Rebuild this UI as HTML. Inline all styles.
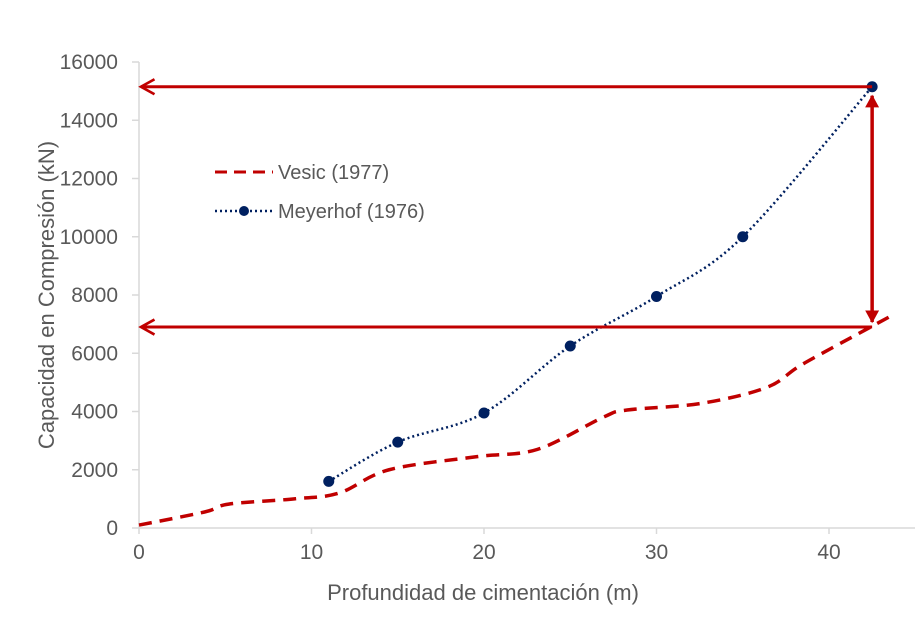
<!DOCTYPE html>
<html><head><meta charset="utf-8"><style>
body{margin:0;background:#fff}
svg text{font-family:"Liberation Sans",Arial,sans-serif;fill:#595959}
</style></head><body>
<svg id="chart" width="921" height="625" viewBox="0 0 921 625" xmlns="http://www.w3.org/2000/svg">
<defs>
<marker id="ah" viewBox="0 0 12 12" refX="10" refY="6" markerWidth="6" markerHeight="6" orient="auto-start-reverse" markerUnits="strokeWidth">
<path d="M1,1 L10,6 L1,11" fill="none" stroke="#c00000" stroke-width="1.8"/></marker>
<marker id="ahs" viewBox="0 0 12 12" refX="10" refY="6" markerWidth="4" markerHeight="4" orient="auto-start-reverse" markerUnits="strokeWidth">
<path d="M0,0 L11,6 L0,12 Z" fill="#c00000"/></marker>
</defs>
<g id="axes"></g>
<g id="series"></g>
<g id="annot"></g>
<text transform="translate(54,295) rotate(-90)" text-anchor="middle" font-size="22">Capacidad en Compresión (kN)</text>
<text x="483" y="600" text-anchor="middle" font-size="22">Profundidad de cimentación (m)</text>
<g>
<line x1="215" y1="172" x2="273" y2="172" stroke="#c00000" stroke-width="3" stroke-dasharray="12,7"/>
<text x="278" y="179" font-size="20">Vesic (1977)</text>
<line x1="215" y1="211" x2="273" y2="211" stroke="#002060" stroke-width="2.5" stroke-dasharray="2,3"/>
<circle cx="244" cy="211" r="5" fill="#002060"/>
<text x="278" y="218" font-size="20">Meyerhof (1976)</text>
</g>
</svg>
<script>
const xTicks=[0,10,20,30,40];
const yTicks=[0,2000,4000,6000,8000,10000,12000,14000,16000];
const vesicX=[0,3.8,5.2,9.0,11.6,14.5,19.6,23.1,26.9,28.3,32.6,36.4,38.4,42.1,43.5];
const vesicY=[100,550,820,1000,1200,2000,2450,2700,3800,4050,4280,4830,5600,6800,7250];
const meyX=[11,15,20,25,30,35,42.5];
const meyY=[1600,2950,3950,6250,7950,10000,15150];
const upperLevel=15150, lowerLevel=6900, arrowX=42.5;
const X0=139,XS=17.25,Y0=528,YS=466/16000;
const sx=v=>X0+v*XS, sy=v=>Y0-v*YS;
const NS="http://www.w3.org/2000/svg";
function mk(t,a,p){const e=document.createElementNS(NS,t);for(const k in a)e.setAttribute(k,a[k]);p.appendChild(e);return e;}
const ax=document.getElementById('axes');
let l=mk('line',{x1:X0,y1:Y0,x2:915,y2:Y0,stroke:'#d9d9d9','stroke-width':1.5},ax);


l=mk('line',{x1:X0,y1:Y0,x2:X0,y2:sy(16000),stroke:'#d9d9d9','stroke-width':1.5},ax);


xTicks.forEach(v=>{mk('line',{x1:sx(v),y1:Y0,x2:sx(v),y2:Y0+6,stroke:'#d9d9d9','stroke-width':1.5},ax);
const t=mk('text',{x:sx(v),y:Y0+31,'text-anchor':'middle','font-size':21},ax);t.textContent=v;

});
yTicks.forEach(v=>{mk('line',{x1:X0-7,y1:sy(v),x2:X0,y2:sy(v),stroke:'#d9d9d9','stroke-width':1.5},ax);
const t=mk('text',{x:118,y:sy(v)+7,'text-anchor':'end','font-size':21},ax);t.textContent=v;

});
const se=document.getElementById('series');
function smooth(xs,ys){let p=[];for(let i=0;i<xs.length;i++)p.push([sx(xs[i]),sy(ys[i])]);
let d='M'+p[0][0]+','+p[0][1];for(let i=0;i<p.length-1;i++){const a=p[i-1]||p[i],b=p[i],c=p[i+1],e=p[i+2]||c;
d+=` C${b[0]+(c[0]-a[0])/6},${b[1]+(c[1]-a[1])/6} ${c[0]-(e[0]-b[0])/6},${c[1]-(e[1]-b[1])/6} ${c[0]},${c[1]}`;}return d;}
let p=mk('path',{d:smooth(vesicX,vesicY),fill:'none',stroke:'#c00000','stroke-width':3.5,'stroke-dasharray':'13,8'},se);


p=mk('path',{d:smooth(meyX,meyY),fill:'none',stroke:'#002060','stroke-width':2.5,'stroke-dasharray':'2,3'},se);


meyX.forEach((x,i)=>{const c=mk('circle',{cx:sx(x),cy:sy(meyY[i]),r:5.5,fill:'#002060'},se);

});
const an=document.getElementById('annot');
l=mk('line',{x1:sx(arrowX),y1:sy(upperLevel),x2:X0+2,y2:sy(upperLevel),stroke:'#c00000','stroke-width':3,'marker-end':'url(#ah)'},an);


l=mk('line',{x1:sx(arrowX),y1:sy(lowerLevel),x2:X0+2,y2:sy(lowerLevel),stroke:'#c00000','stroke-width':3,'marker-end':'url(#ah)'},an);


l=mk('line',{x1:sx(arrowX),y1:sy(upperLevel)+9,x2:sx(arrowX),y2:sy(lowerLevel)-5,stroke:'#c00000','stroke-width':3.5,'marker-start':'url(#ahs)','marker-end':'url(#ahs)'},an);


</script>
</body></html>
